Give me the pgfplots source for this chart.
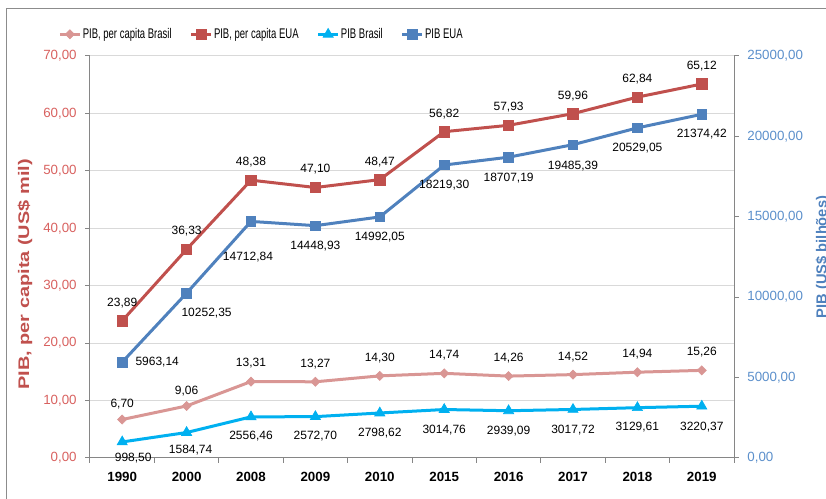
\documentclass[border=0pt]{standalone}
\usepackage{fontspec}
\setmainfont{Liberation Sans}
\usepackage{graphicx}
\usepackage{pgfplots}
\usepackage{pgfplotstable}
\pgfplotsset{compat=1.18}

\definecolor{cPink}{HTML}{D99694}
\definecolor{cRed}{HTML}{C0504D}
\definecolor{cCyan}{HTML}{00B0F0}
\definecolor{cBlue}{HTML}{4F81BD}
\definecolor{cLeftTick}{HTML}{D8615F}
\definecolor{cRightTick}{HTML}{5B8FCB}
\definecolor{cGrid}{HTML}{D9D9D9}
\definecolor{cAxis}{HTML}{868686}
\definecolor{cFrame}{HTML}{8C8C8C}

% x y label xshift(pt) yshift(pt)
\pgfplotstableread{
x y lab dx dy
0 6.70 6,70 0 11.6
1 9.06 9,06 0 11.3
2 13.31 13,31 0 13.5
3 13.27 13,27 0 13.5
4 14.30 14,30 0 13.5
5 14.74 14,74 0 13.5
6 14.26 14,26 0 13.5
7 14.52 14,52 0 13.5
8 14.94 14,94 0 13.5
9 15.26 15,26 0 13.5
}\tabPink

\pgfplotstableread{
x y lab dx dy
0 23.89 23,89 0 13.5
1 36.33 36,33 0 13.5
2 48.38 48,38 0 13.5
3 47.10 47,10 0 13.5
4 48.47 48,47 0 13.5
5 56.82 56,82 0 13.5
6 57.93 57,93 0 13.5
7 59.96 59,96 0 13.5
8 62.84 62,84 0 13.5
9 65.12 65,12 0 13.5
}\tabRed

\pgfplotstableread{
x y lab dx dy
0 998.50 998,50 8.25 -12
1 1584.74 1584,74 3 -13.1
2 2556.46 2556,46 0 -14.3
3 2572.70 2572,70 0 -14.6
4 2798.62 2798,62 0 -15
5 3014.76 3014,76 0 -15.4
6 2939.09 2939,09 0 -15.5
7 3017.72 3017,72 0 -15.4
8 3129.61 3129,61 0 -14.8
9 3220.37 3220,37 0 -15.4
}\tabCyan

\pgfplotstableread{
x y lab dx dy
0 5963.14 5963,14 26.25 0
1 10252.35 10252,35 15 -15
2 14712.84 14712,84 -2.25 -27
3 14448.93 14448,93 0 -15
4 14992.05 14992,05 0 -15
5 18219.30 18219,30 0 -15
6 18707.19 18707,19 0 -15.5
7 19485.39 19485,39 0 -15.7
8 20529.05 20529,05 0 -15
9 21374.42 21374,42 0 -15
}\tabBlue

\pgfplotsset{
  pinkstyle/.style={cPink, line width=2.25pt, mark=square*, mark size=2.4pt,
     mark options={solid, rotate=45, fill=cPink, draw=cPink, line width=0.5pt}},
  redstyle/.style={cRed, line width=2.25pt, mark=square*, mark size=3.9pt,
     mark options={solid, fill=cRed, draw=cRed, line width=0.5pt}},
  cyanstyle/.style={cCyan, line width=2.25pt, mark=triangle*, mark size=4.4pt,
     mark options={solid, fill=cCyan, draw=cCyan, line width=0.5pt}},
  bluestyle/.style={cBlue, line width=2.25pt, mark=square*, mark size=3.6pt,
     mark options={solid, fill=cBlue, draw=cBlue, line width=0.5pt}},
  lbl/.style={
     nodes near coords,
     point meta=explicit symbolic,
     nodes near coords align={anchor=center},
     visualization depends on={\thisrow{dx}\as\lbdx},
     visualization depends on={\thisrow{dy}\as\lbdy},
     every node near coord/.append style={anchor=center, text=black,
        font=\fontsize{9}{11}\selectfont, inner sep=0pt,
        xshift=\lbdx pt, yshift=\lbdy pt},
  },
  common/.style={
     at={(67.5pt,30.75pt)}, anchor=south west,
     scale only axis, width=483pt, height=301.5pt,
     xmin=-0.5, xmax=9.5, clip=false,
     font=\fontsize{10}{12}\selectfont,
     axis line style={-, cAxis, line width=0.75pt},
     tick style={cAxis, line width=0.75pt},
     tick align=outside,
     major tick length=3.5pt, minor tick length=3.75pt,
  },
}

\begin{document}
\begin{tikzpicture}
% outer frame (only top and left visible)
\draw[cFrame, line width=0.75pt] (4.5pt,-5pt) -- (4.5pt,367.5pt) -- (640pt,367.5pt);

\begin{axis}[common,
  ymin=0, ymax=70,
  axis x line*=bottom, axis y line*=left,
  xtick={0,...,9},
  xticklabels={1990,2000,2008,2009,2010,2015,2016,2017,2018,2019},
  minor xtick={-0.5,0.5,...,9.5},
  major x tick style={draw=none},
  xticklabel style={font=\bfseries\fontsize{10}{12}\selectfont, text=black, yshift=-3.5pt},
  ytick={0,10,...,70},
  yticklabel={\pgfmathprintnumber[fixed,fixed zerofill,precision=2,use comma,1000 sep={},assume math mode=true]{\tick}},
  yticklabel style={text=cLeftTick, xshift=-3pt},
  ymajorgrids, grid style={cGrid, line width=0.75pt},
]
\addplot[pinkstyle, lbl] table[x=x, y=y, meta=lab] {\tabPink};
\addplot[redstyle, lbl] table[x=x, y=y, meta=lab] {\tabRed};
\end{axis}

\begin{axis}[common,
  ymin=0, ymax=25000,
  axis x line=none, axis y line*=right,
  ytick={0,5000,...,25000},
  scaled y ticks=false,
  yticklabel={\pgfmathprintnumber[fixed,fixed zerofill,precision=2,use comma,1000 sep={},assume math mode=true]{\tick}},
  yticklabel style={text=cRightTick, xshift=3pt},
  legend columns=4,
  legend style={at={(-0.049,1.054)}, anchor=west, draw=none, fill=none,
     inner sep=0pt, outer sep=0pt, font=\fontsize{10.5}{12}\selectfont,
     nodes={inner xsep=1pt, inner ysep=0pt},
     /tikz/every even column/.append style={column sep=12.5pt}},
  legend image code/.code={\draw[mark repeat=2,mark phase=2] plot coordinates {(0pt,0pt)(7.5pt,0pt)(15pt,0pt)};},
  legend cell align=left,
]
\addlegendimage{pinkstyle}
\addlegendentry{\scalebox{0.68}[1]{PIB, per capita Brasil}}
\addlegendimage{redstyle}
\addlegendentry{\scalebox{0.68}[1]{PIB, per capita EUA}}
\addplot[cyanstyle, lbl] table[x=x, y=y, meta=lab] {\tabCyan};
\addlegendentry{\scalebox{0.68}[1]{PIB Brasil}}
\addplot[bluestyle, lbl] table[x=x, y=y, meta=lab] {\tabBlue};
\addlegendentry{\scalebox{0.68}[1]{PIB EUA}}
\end{axis}

\node[rotate=90, text=cRed, font=\bfseries\fontsize{11.5}{14}\selectfont] at (18.75pt,168.4pt) {\scalebox{1.3}[1]{PIB, per capita (US\$ mil)}};
\node[rotate=90, text=cBlue, font=\bfseries\fontsize{11}{13}\selectfont] at (617pt,181.5pt) {PIB (US\$ bilhões)};

\pgfresetboundingbox
\useasboundingbox (0,0) rectangle (619.5pt,374.25pt);
\end{tikzpicture}
\end{document}
